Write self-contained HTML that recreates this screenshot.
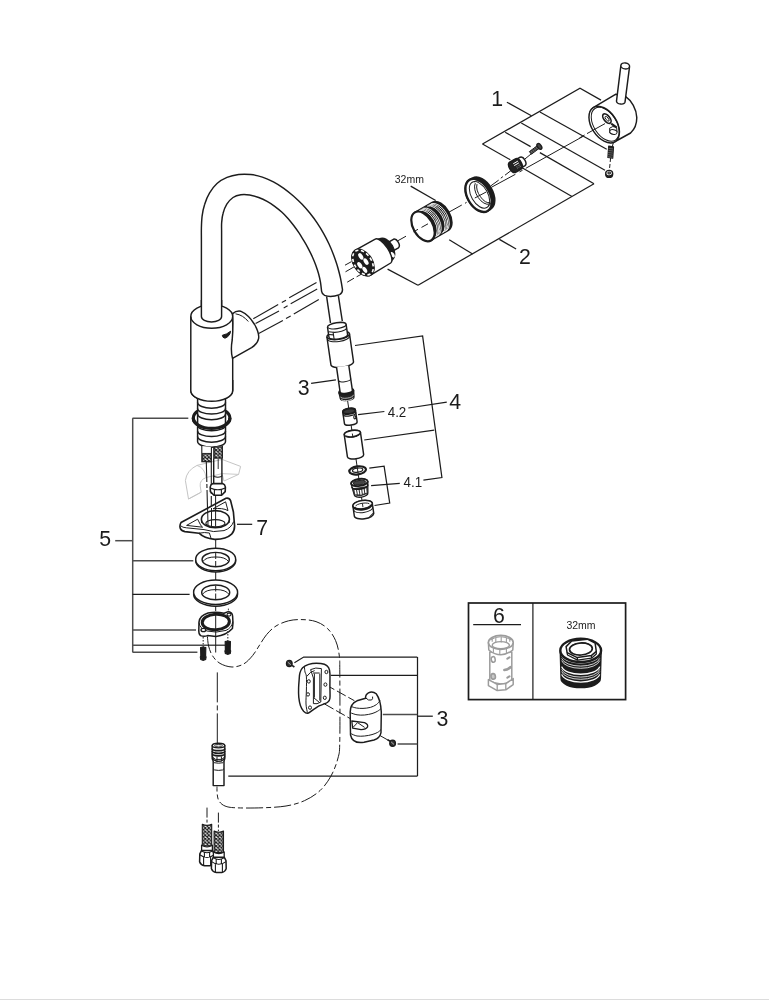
<!DOCTYPE html>
<html lang="en">
<head>
<meta charset="utf-8">
<title>Exploded view - kitchen mixer spare parts</title>
<style>
html,body{margin:0;padding:0;background:#fff;}
body{width:769px;height:1000px;overflow:hidden;position:relative;font-family:"Liberation Sans",Arial,Helvetica,sans-serif;}
#diagram{display:block;position:absolute;left:0;top:0;width:769px;height:1000px;will-change:transform;}
#diagram text{font-family:"Liberation Sans",Arial,Helvetica,sans-serif;}
#foot{position:absolute;left:0;top:999px;width:769px;height:1px;background:#dcdcdc;}
</style>
</head>
<body>
<svg id="diagram" width="769" height="1000" viewBox="0 0 769 1000">
<defs>
<pattern id="braid" width="3.6" height="3.6" patternUnits="userSpaceOnUse">
<rect width="3.6" height="3.6" fill="#fff"/>
<path d="M0 0L3.6 3.6M3.6 0L0 3.6" stroke="#1c1c1c" stroke-width="1.15" fill="none"/>
</pattern>
</defs>
<!-- leader lines / brackets -->
<g id="leaders">
<path d="M482.5 144.0L580.0 88.2L601.0 100.1" fill="none" stroke="#1c1c1c" stroke-width="1.25"/>
<path d="M482.5 144.0L510.3 159.8" fill="none" stroke="#1c1c1c" stroke-width="1.25"/>
<path d="M505.2 132.3L530.6 146.6" fill="none" stroke="#1c1c1c" stroke-width="1.25"/>
<path d="M521.3 123.0L605.0 170.3" fill="none" stroke="#1c1c1c" stroke-width="1.25"/>
<path d="M539.9 112.0L606.7 149.2" fill="none" stroke="#1c1c1c" stroke-width="1.25"/>
<path d="M506.9 102.2L531.4 115.7" fill="none" stroke="#1c1c1c" stroke-width="1.25"/>
<path d="M418.0 285.2L594.0 183.8" fill="none" stroke="#1c1c1c" stroke-width="1.25"/>
<path d="M418.0 285.2L387.6 269.1" fill="none" stroke="#1c1c1c" stroke-width="1.25"/>
<path d="M472.6 254.0L449.2 239.7" fill="none" stroke="#1c1c1c" stroke-width="1.25"/>
<path d="M572.0 196.5L522.1 167.8" fill="none" stroke="#1c1c1c" stroke-width="1.25"/>
<path d="M594.0 183.8L539.9 152.6" fill="none" stroke="#1c1c1c" stroke-width="1.25"/>
<path d="M499.4 239.4L516.1 249.0" fill="none" stroke="#1c1c1c" stroke-width="1.25"/>
<path d="M410.7 186.1L435.7 200.5" fill="none" stroke="#1c1c1c" stroke-width="1.25"/>
<path d="M355.0 345.5L422.6 335.9L441.9 477.5L423.4 480.1" fill="none" stroke="#1c1c1c" stroke-width="1.25"/>
<path d="M364.2 440.0L434.2 430.2" fill="none" stroke="#1c1c1c" stroke-width="1.25"/>
<path d="M446.8 402.2L408.3 408.0" fill="none" stroke="#1c1c1c" stroke-width="1.25"/>
<path d="M384.4 411.5L358.1 414.7" fill="none" stroke="#1c1c1c" stroke-width="1.25"/>
<path d="M369.3 468.2L384.1 466.2L389.7 503.0L374.5 505.5" fill="none" stroke="#1c1c1c" stroke-width="1.25"/>
<path d="M371.1 485.7L399.8 483.3" fill="none" stroke="#1c1c1c" stroke-width="1.25"/>
<path d="M311.1 383.4L335.9 379.8" fill="none" stroke="#1c1c1c" stroke-width="1.25"/>
<path d="M132.7 418.2L132.7 652.2" fill="none" stroke="#4d4d4d" stroke-width="1.5"/>
<path d="M132.5 418.2L188.3 418.2" fill="none" stroke="#4d4d4d" stroke-width="1.5"/>
<path d="M132.5 560.8L193.3 560.8" fill="none" stroke="#4d4d4d" stroke-width="1.5"/>
<path d="M132.5 630.1L196.0 630.1" fill="none" stroke="#4d4d4d" stroke-width="1.5"/>
<path d="M132.5 645.3L225.1 645.3" fill="none" stroke="#4d4d4d" stroke-width="1.5"/>
<path d="M132.5 652.2L197.4 652.2" fill="none" stroke="#4d4d4d" stroke-width="1.5"/>
<path d="M132.5 594.4L189.6 594.4" fill="none" stroke="#1c1c1c" stroke-width="1.1"/>
<path d="M115.2 540.7L132.4 540.7" fill="none" stroke="#4d4d4d" stroke-width="1.5"/>
<path d="M237.0 524.3L252.2 524.3" fill="none" stroke="#1c1c1c" stroke-width="1.25"/>
<path d="M417.5 657.0L417.5 776.2" fill="none" stroke="#1c1c1c" stroke-width="1.25"/>
<path d="M417.3 657.0L303.7 657.0L294.4 662.7" fill="none" stroke="#1c1c1c" stroke-width="1.25"/>
<path d="M417.3 675.4L330.7 675.4" fill="none" stroke="#1c1c1c" stroke-width="1.25"/>
<path d="M432.8 716.2L417.3 716.2" fill="none" stroke="#1c1c1c" stroke-width="1.25"/>
<path d="M417.3 714.6L382.8 714.6" fill="none" stroke="#4d4d4d" stroke-width="1.5"/>
<path d="M417.3 744.0L397.6 744.0" fill="none" stroke="#4d4d4d" stroke-width="1.5"/>
<path d="M417.3 776.2L228.3 776.2" fill="none" stroke="#1c1c1c" stroke-width="1.25"/>
</g>
<!-- labels -->
<g id="labels">
<text x="491.3" y="105.5" font-size="21.3" fill="#1c1c1c" text-anchor="start" >1</text>
<text x="519.1" y="263.9" font-size="21.3" fill="#1c1c1c" text-anchor="start" >2</text>
<text x="297.8" y="395.1" font-size="21.3" fill="#1c1c1c" text-anchor="start" >3</text>
<text x="449.2" y="408.8" font-size="21.3" fill="#1c1c1c" text-anchor="start" >4</text>
<text x="99.2" y="545.9" font-size="21.3" fill="#1c1c1c" text-anchor="start" >5</text>
<text x="256.3" y="534.7" font-size="21.3" fill="#1c1c1c" text-anchor="start" >7</text>
<text x="493.1" y="622.6" font-size="21.3" fill="#1c1c1c" text-anchor="start" >6</text>
<text x="436.5" y="725.8" font-size="21.3" fill="#1c1c1c" text-anchor="start" >3</text>
<text x="0.0" y="0.0" font-size="13.8" fill="#1c1c1c" text-anchor="start" transform="translate(387.7 416.5) scale(0.97 1)">4.2</text>
<text x="0.0" y="0.0" font-size="13.8" fill="#1c1c1c" text-anchor="start" transform="translate(403.5 486.8) scale(0.97 1)">4.1</text>
<text x="0.0" y="0.0" font-size="11.0" fill="#1c1c1c" text-anchor="start" transform="translate(394.7 182.7) scale(0.955 1)">32mm</text>
<text x="0.0" y="0.0" font-size="11.0" fill="#1c1c1c" text-anchor="start" transform="translate(566.4 628.8) scale(0.955 1)">32mm</text>
</g>
<!-- faucet spout and body -->
<g id="faucet">
<path d="M253.3 318.7L278.2 304.6" fill="none" stroke="#1c1c1c" stroke-width="1.1"/>
<path d="M281.8 302.5L286.0 300.2" fill="none" stroke="#1c1c1c" stroke-width="1.1"/>
<path d="M289.2 297.8L316.5 282.5" fill="none" stroke="#1c1c1c" stroke-width="1.1"/>
<path d="M255.6 323.5L279.0 310.9" fill="none" stroke="#1c1c1c" stroke-width="1.1"/>
<path d="M283.7 307.9L287.6 305.7" fill="none" stroke="#1c1c1c" stroke-width="1.1"/>
<path d="M290.7 303.8L317.2 289.0" fill="none" stroke="#1c1c1c" stroke-width="1.1"/>
<path d="M258.7 333.5L282.9 320.5" fill="none" stroke="#1c1c1c" stroke-width="1.1"/>
<path d="M286.0 318.6L290.7 316.0" fill="none" stroke="#1c1c1c" stroke-width="1.1"/>
<path d="M293.8 314.0L318.8 299.6" fill="none" stroke="#1c1c1c" stroke-width="1.1"/>
<path d="M201.4 316.4C201.4 305.7 201.4 264.8 201.4 252.0C201.4 239.2 201.4 243.9 201.4 239.9C201.4 235.9 201.3 232.1 201.4 228.1C201.5 224.1 201.6 220.1 202.1 216.1C202.6 212.1 203.4 208.1 204.7 204.2C205.9 200.3 207.5 196.2 209.6 192.8C211.7 189.4 214.1 186.1 217.0 183.5C219.9 180.9 223.4 178.9 227.0 177.4C230.6 175.9 234.7 175.0 238.6 174.5C242.5 174.0 246.7 174.1 250.7 174.5C254.7 174.9 258.6 175.9 262.4 177.1C266.2 178.3 269.8 180.0 273.4 181.9C277.0 183.8 280.5 186.0 283.8 188.3C287.1 190.7 290.3 193.3 293.4 196.0C296.4 198.7 299.3 201.4 302.1 204.3C304.9 207.2 307.5 210.2 310.0 213.3C312.5 216.4 314.9 219.6 317.1 222.9C319.3 226.2 321.4 229.6 323.4 233.1C325.4 236.6 327.2 240.2 328.9 243.8C330.6 247.5 332.2 251.2 333.6 255.0C335.0 258.8 336.4 262.6 337.5 266.5C338.6 270.4 339.7 274.3 340.5 278.2C341.3 282.1 342.2 287.7 342.5 289.6 Q342.6 293.2 339.6 294.6 Q331 297.8 324.6 295.4 Q322 294.2 321.6 291.4 L321.6 291.4C321.4 289.9 321.0 285.4 320.5 282.4C320.0 279.4 319.3 276.4 318.5 273.5C317.7 270.6 316.7 267.8 315.7 265.0C314.7 262.2 313.5 259.4 312.3 256.7C311.1 254.0 309.7 251.3 308.3 248.6C306.9 245.9 305.4 243.3 303.8 240.7C302.2 238.1 300.7 235.4 299.0 232.9C297.3 230.4 295.5 227.9 293.7 225.5C291.9 223.1 290.0 220.7 288.0 218.4C286.0 216.2 283.9 214.0 281.7 212.0C279.5 210.0 277.1 208.1 274.7 206.3C272.3 204.5 269.8 202.9 267.1 201.4C264.4 199.9 261.6 198.6 258.7 197.5C255.8 196.4 252.7 195.5 249.7 195.0C246.7 194.5 243.7 194.3 240.9 194.7C238.1 195.1 235.3 195.9 233.0 197.5C230.7 199.1 228.5 201.6 226.8 204.2C225.2 206.8 223.9 210.2 223.1 213.2C222.2 216.2 221.9 219.2 221.7 222.1C221.4 225.0 221.6 227.8 221.6 230.8C221.6 233.8 221.6 236.5 221.6 240.0C221.6 243.5 221.6 239.3 221.6 252.0C221.6 264.7 221.6 305.7 221.6 316.4Z" fill="#fff" stroke="#1c1c1c" stroke-width="1.45" stroke-linejoin="round"/>
<path d="M326.6 296.4L330.5 323.0" fill="none" stroke="#1c1c1c" stroke-width="1.45"/>
<path d="M338.3 295.4L342.3 321.0" fill="none" stroke="#1c1c1c" stroke-width="1.45"/>
<path d="M190.8 316.5 L190.8 390.4 A20.95 10.9 0 0 0 232.7 390.4 L232.7 316.5 A20.95 11.7 0 0 0 190.8 316.5Z" fill="#fff" stroke="#1c1c1c" stroke-width="1.45"/>
<path d="M190.8 316.5 A20.95 11.7 0 0 0 232.7 316.5" fill="none" stroke="#1c1c1c" stroke-width="1.45"/>
<path d="M201.4 300 L201.4 316.5 A10.1 5.4 0 0 0 221.6 316.5 L221.6 300Z" fill="#fff"/>
<path d="M201.4 300 L201.4 316.5 A10.1 5.4 0 0 0 221.6 316.5 L221.6 300" fill="none" stroke="#1c1c1c" stroke-width="1.45"/>
<path d="M222.3 335.3 Q227 334.4 230.6 331.2 Q230 336.2 225 338.2 Q222.4 337.8 222.3 335.3Z" fill="#1c1c1c" stroke="#1c1c1c" stroke-width="1.0"/>
<path d="M232.7 313.6 Q236 310.6 240.6 311.2 Q248.5 314.6 254.6 324.5 Q259.5 333 258.6 338.6 Q257.6 343.6 251.6 347.6 L232.5 358.4 Q230.4 350 232.2 340 Q233.4 327 232.7 313.6Z" fill="#fff" stroke="#1c1c1c" stroke-width="1.45" stroke-linejoin="round"/>
<path d="M235.5 313.8 Q243 315 248.3 321.5" fill="none" stroke="#1c1c1c" stroke-width="1.0"/>
</g>
<!-- handle, screws, rings, cartridge (exploded along 30 degree axis) -->
<g id="top-parts">
<path d="M491.4 187.3L515.4 174.3" fill="none" stroke="#1c1c1c" stroke-width="1.0"/>
<path d="M519.5 171.9L522.6 170.2" fill="none" stroke="#1c1c1c" stroke-width="1.0"/>
<path d="M525.8 168.3L583.0 136.4" fill="none" stroke="#1c1c1c" stroke-width="1.0"/>
<path d="M490.9 185.8L498.7 180.1" fill="none" stroke="#1c1c1c" stroke-width="1.0"/>
<path d="M500.8 178.2L502.9 176.6" fill="none" stroke="#1c1c1c" stroke-width="1.0"/>
<path d="M505.0 175.2L511.2 170.4" fill="none" stroke="#1c1c1c" stroke-width="1.0"/>
<path d="M523.0 160.6L531.5 153.6" fill="none" stroke="#1c1c1c" stroke-width="1.0"/>
<path d="M466.6 202.3L465.0 203.3" fill="none" stroke="#1c1c1c" stroke-width="1.0"/>
<path d="M461.8 205.0L442.0 216.0" fill="none" stroke="#1c1c1c" stroke-width="1.0"/>
<path d="M406.0 236.2L396.0 241.8" fill="none" stroke="#1c1c1c" stroke-width="1.0"/>
<path d="M613.8 141.0L611.4 150.0" fill="none" stroke="#1c1c1c" stroke-width="1.0"/>
<path d="M610.6 158.0L609.5 169.0" fill="none" stroke="#1c1c1c" stroke-width="1.0" stroke-dasharray="4 2"/>
<path d="M593.2 107.7 L615.9 94.2 L625.7 96.6 C631.5 100.5 636.5 109 636.8 117.6 C636.8 124.5 634.5 129.5 630.6 133 L615.2 141.5 A12.6 20.2 -33 0 1 593.2 107.7Z" fill="#fff" stroke="#1c1c1c" stroke-width="1.45" stroke-linejoin="round"/>
<ellipse cx="604.2" cy="124.6" rx="12.6" ry="20.2" transform="rotate(-33 604.2 124.6)" fill="#fff" stroke="#1c1c1c" stroke-width="1.45"/>
<ellipse cx="605.2" cy="124.3" rx="11.3" ry="18.8" transform="rotate(-33 605.2 124.3)" fill="none" stroke="#1c1c1c" stroke-width="1.0"/>
<path d="M605.0 123.6L587.0 133.6" fill="none" stroke="#1c1c1c" stroke-width="1.0"/>
<path d="M584.6 135.0L579.4 138.0" fill="none" stroke="#1c1c1c" stroke-width="1.0"/>
<ellipse cx="606.9" cy="118.6" rx="2.9" ry="5.6" transform="rotate(-39 606.9 118.6)" fill="#fff" stroke="#1c1c1c" stroke-width="1.7"/>
<ellipse cx="607.1" cy="118.8" rx="1.2" ry="2.9" transform="rotate(-39 607.1 118.8)" fill="none" stroke="#1c1c1c" stroke-width="0.9"/>
<path d="M609.6 128.2 Q612.4 125.4 616.6 127.2 L617 132.2 Q613.5 135.6 609.8 132.8Z" fill="#fff" stroke="#1c1c1c" stroke-width="1.0"/>
<ellipse cx="613.4" cy="132.0" rx="3.7" ry="2.3" transform="rotate(12 613.4 132.0)" fill="#fff" stroke="#1c1c1c" stroke-width="1.0"/>
<path d="M611.2 123.6 L616.6 127.4" fill="none" stroke="#1c1c1c" stroke-width="2.0"/>
<path d="M620.8 66.2 L616.5 101.2 A4.3 2.6 8 0 0 625.0 102.2 L629.5 67.2Z" fill="#fff" stroke="#1c1c1c" stroke-width="1.45" stroke-linejoin="round"/>
<ellipse cx="625.2" cy="65.9" rx="4.4" ry="3.0" transform="rotate(8 625.2 65.9)" fill="#fff" stroke="#1c1c1c" stroke-width="1.45"/>
<path d="M608.7 146.2 L613.5 146.9 L612.7 158.2 L607.9 157.5Z" fill="#222" stroke="#1c1c1c" stroke-width="1.2" stroke-linejoin="round"/>
<path d="M608.5 148.3L613.1 148.9" fill="none" stroke="#999" stroke-width="0.5"/>
<path d="M608.4 150.4L613.0 151.0" fill="none" stroke="#999" stroke-width="0.5"/>
<path d="M608.2 152.5L612.8 153.1" fill="none" stroke="#999" stroke-width="0.5"/>
<path d="M608.1 154.6L612.7 155.2" fill="none" stroke="#999" stroke-width="0.5"/>
<path d="M607.9 156.7L612.5 157.3" fill="none" stroke="#999" stroke-width="0.5"/>
<ellipse cx="609.2" cy="174.4" rx="3.4" ry="3.0" fill="#333" stroke="#1c1c1c" stroke-width="1.4"/>
<ellipse cx="609.2" cy="173.2" rx="3.4" ry="2.8" fill="#fff" stroke="#1c1c1c" stroke-width="1.4"/>
<ellipse cx="609.2" cy="173.0" rx="1.5" ry="1.1" fill="#777" stroke="#1c1c1c" stroke-width="0.9"/>
<path d="M529.4 151.6 L537.4 145.6 L539.4 148.2 L531.4 154.2Z" fill="#3a3a3a" stroke="#1c1c1c" stroke-width="1.0" stroke-linejoin="round"/>
<path d="M531.0 151.0L532.4 153.0" fill="none" stroke="#aaa" stroke-width="0.5"/>
<path d="M532.7 149.7L534.1 151.7" fill="none" stroke="#aaa" stroke-width="0.5"/>
<path d="M534.4 148.4L535.8 150.4" fill="none" stroke="#aaa" stroke-width="0.5"/>
<path d="M536.1 147.1L537.5 149.1" fill="none" stroke="#aaa" stroke-width="0.5"/>
<ellipse cx="539.4" cy="146.4" rx="1.9" ry="3.3" transform="rotate(-35 539.4 146.4)" fill="#444" stroke="#1c1c1c" stroke-width="1.3"/>
<path d="M515.3 160.0 L520.2 157.2 A3.0 4.9 -30 0 1 525.1 165.6 L520.2 168.4 A3.0 4.9 -30 0 1 515.3 160.0Z" fill="#fff" stroke="#1c1c1c" stroke-width="1.45" stroke-linejoin="round"/>
<path d="M509.7 162.1 L515.4 158.8 A3.4 5.9 -30 0 1 521.3 169.0 L515.6 172.3 A3.4 5.9 -30 0 1 509.7 162.1Z" fill="#222" stroke="#1c1c1c" stroke-width="1.45" stroke-linejoin="round"/>
<path d="M513.2 163.8L517.9 161.1" fill="none" stroke="#fff" stroke-width="1.0"/>
<path d="M514.2 165.6L518.9 162.9" fill="none" stroke="#fff" stroke-width="1.0"/>
<path d="M516.5 166.8L520.0 164.8" fill="none" stroke="#ccc" stroke-width="0.7" stroke-dasharray="0.8 0.8"/>
<path d="M517.3 168.2L520.8 166.2" fill="none" stroke="#ccc" stroke-width="0.7" stroke-dasharray="0.8 0.8"/>
<path d="M469.6 179.8 L472.5 178.1 A11.2 18.0 -30 0 1 490.5 209.3 L487.6 211.0 A11.2 18.0 -30 0 1 469.6 179.8Z" fill="#1c1c1c" stroke="#1c1c1c" stroke-width="1.6" stroke-linejoin="round"/>
<ellipse cx="478.6" cy="195.4" rx="11.2" ry="18.0" transform="rotate(-30 478.6 195.4)" fill="#fff" stroke="#1c1c1c" stroke-width="2.4"/>
<ellipse cx="479.5" cy="194.9" rx="8.2" ry="14.6" transform="rotate(-30 479.5 194.9)" fill="none" stroke="#1c1c1c" stroke-width="1.0"/>
<path d="M474.0 182.1A7.6 14.0 -30 1 1 487.8 206.1" fill="none" stroke="#1c1c1c" stroke-width="1.0"/>
<path d="M489.5 204.0A7.3 13.0 -30 0 1 475.3 183.2" fill="none" stroke="#1c1c1c" stroke-width="1.0"/>
<path d="M490.2 202.6A6.8 12.2 -30 0 1 477.0 184.1" fill="none" stroke="#1c1c1c" stroke-width="1.0"/>
<path d="M486.2 192.0L474.8 198.0" fill="none" stroke="#1c1c1c" stroke-width="1.0"/>
<path d="M414.9 212.4 L432.6 202.2 A9.8 16.2 -30 0 1 448.8 230.2 L431.1 240.4 A9.8 16.2 -30 0 1 414.9 212.4Z" fill="#1c1c1c" stroke="#1c1c1c" stroke-width="1.5" stroke-linejoin="round"/>
<path d="M419.0 210.7A9.5 15.7 -30 0 1 434.1 238.1" fill="none" stroke="#fff" stroke-width="0.9"/>
<path d="M420.4 209.9A9.5 15.7 -30 0 1 435.5 237.3" fill="none" stroke="#fff" stroke-width="0.9"/>
<path d="M421.8 209.1A9.5 15.7 -30 0 1 436.8 236.5" fill="none" stroke="#fff" stroke-width="0.9"/>
<path d="M423.2 208.3A9.5 15.7 -30 0 1 438.2 235.7" fill="none" stroke="#fff" stroke-width="0.9"/>
<path d="M427.0 206.1A9.5 15.7 -30 0 1 442.0 233.5" fill="none" stroke="#fff" stroke-width="0.9"/>
<path d="M428.4 205.3A9.5 15.7 -30 0 1 443.4 232.7" fill="none" stroke="#fff" stroke-width="0.9"/>
<path d="M429.7 204.5A9.5 15.7 -30 0 1 444.8 231.9" fill="none" stroke="#fff" stroke-width="0.9"/>
<path d="M431.1 203.7A9.5 15.7 -30 0 1 446.2 231.1" fill="none" stroke="#fff" stroke-width="0.9"/>
<ellipse cx="423.0" cy="226.4" rx="9.8" ry="16.2" transform="rotate(-30 423.0 226.4)" fill="#fff" stroke="#1c1c1c" stroke-width="2.2"/>
<path d="M413.5 231.8L418.0 229.3" fill="none" stroke="#1c1c1c" stroke-width="1.0"/>
<path d="M421.5 227.4L428.0 223.8" fill="none" stroke="#1c1c1c" stroke-width="1.0"/>
<path d="M387.3 242.8 L393.4 239.3 A3.0 5.0 -30 0 1 398.4 247.9 L392.3 251.4 A3.0 5.0 -30 0 1 387.3 242.8Z" fill="#fff" stroke="#1c1c1c" stroke-width="1.45" stroke-linejoin="round"/>
<path d="M374.5 240.5 L379.8 238.6 A8.0 12.4 -30 0 1 392.2 260.0 L387.9 263.7 A8.4 13.4 -30 0 1 374.5 240.5Z" fill="#1c1c1c" stroke="#1c1c1c" stroke-width="1.2" stroke-linejoin="round"/>
<ellipse cx="392.6" cy="254.7" rx="1.7" ry="3.0" transform="rotate(-30 392.6 254.7)" fill="#fff"/>
<path d="M355.0 250.4 L375.2 239.2 A5.4 14.2 -33 0 1 390.7 263.0 L371.0 274.8 A9.4 14.6 -33 0 1 355.0 250.4Z" fill="#fff" stroke="#1c1c1c" stroke-width="1.45" stroke-linejoin="round"/>
<ellipse cx="363.0" cy="262.6" rx="9.4" ry="14.6" transform="rotate(-33 363.0 262.6)" fill="#1c1c1c" stroke="#1c1c1c" stroke-width="1.4"/>
<ellipse cx="363.0" cy="262.6" rx="8.5" ry="13.6" transform="rotate(-33 363.0 262.6)" fill="none" stroke="#fff" stroke-width="1.6" stroke-dasharray="3.2 2.6"/>
<ellipse cx="360.8" cy="256.4" rx="2.0" ry="3.6" transform="rotate(-33 360.8 256.4)" fill="#fff"/>
<ellipse cx="366.0" cy="261.6" rx="2.0" ry="3.6" transform="rotate(-33 366.0 261.6)" fill="#fff"/>
<ellipse cx="359.8" cy="265.2" rx="2.0" ry="3.6" transform="rotate(-33 359.8 265.2)" fill="#fff"/>
<ellipse cx="364.8" cy="269.8" rx="1.9" ry="3.4" transform="rotate(-33 364.8 269.8)" fill="#fff"/>
<path d="M351.5 261.6L345.0 265.2" fill="none" stroke="#1c1c1c" stroke-width="1.0"/>
<path d="M354.5 266.6L345.5 271.8" fill="none" stroke="#1c1c1c" stroke-width="1.0"/>
<path d="M361.0 274.4L356.6 276.8" fill="none" stroke="#1c1c1c" stroke-width="1.0"/>
<path d="M354.0 278.2L347.2 282.2" fill="none" stroke="#1c1c1c" stroke-width="1.0"/>
</g>
<!-- pull-out spray head and aerator parts (tilted axis) -->
<g id="spray" transform="rotate(-8.2 338 334)">
<path d="M338.0 400.0L338.0 410.0" fill="none" stroke="#1c1c1c" stroke-width="1.0"/>
<path d="M338.0 426.0L338.0 432.0" fill="none" stroke="#1c1c1c" stroke-width="1.0"/>
<path d="M338.0 460.0L338.0 468.0" fill="none" stroke="#1c1c1c" stroke-width="1.0"/>
<path d="M338.0 476.0L338.0 482.0" fill="none" stroke="#1c1c1c" stroke-width="1.0"/>
<path d="M338.0 498.0L338.0 503.0" fill="none" stroke="#1c1c1c" stroke-width="1.0"/>
<path d="M326.6 335.4 L326.6 363.6 A11.4 4.0 0 0 0 349.4 363.6 L349.4 335.4 A11.4 4.0 0 0 0 326.6 335.4Z" fill="#fff" stroke="#1c1c1c" stroke-width="1.45" stroke-linejoin="round"/>
<path d="M326.6 335.4 A11.4 4 0 0 0 349.4 335.4" fill="none" stroke="#1c1c1c" stroke-width="1.45"/>
<path d="M326.8 337.6 A11.2 4 0 0 0 349.2 337.6" fill="none" stroke="#1c1c1c" stroke-width="1.0"/>
<path d="M328.6 325.6 L328.6 336.0 A9.4 3.0 0 0 0 347.4 336.0 L347.4 325.6 A9.4 3.0 0 0 0 328.6 325.6Z" fill="#fff" stroke="#1c1c1c" stroke-width="1.45" stroke-linejoin="round"/>
<path d="M328.6 325.6 A9.4 3.0 0 0 0 347.4 325.6" fill="none" stroke="#1c1c1c" stroke-width="1.1"/>
<path d="M329.0 330.4 L333.4 331.6 L333.4 338.4" fill="none" stroke="#1c1c1c" stroke-width="1.1"/>
<path d="M333.4 331.6 A9 3 0 0 0 347.2 329.6" fill="none" stroke="#1c1c1c" stroke-width="1.1"/>
<path d="M333.4 334.2 L328.8 333.2" fill="none" stroke="#1c1c1c" stroke-width="1.1"/>
<path d="M330.6 392.0 L331.2 398.4 A6.8 2.6 0 0 0 344.8 398.4 L345.4 392.0 A7.4 2.6 0 0 0 330.6 392.0Z" fill="#222" stroke="#1c1c1c" stroke-width="1.45" stroke-linejoin="round"/>
<path d="M331.4 396.4 A6.6 2.4 0 0 0 344.6 396.4" fill="none" stroke="#ddd" stroke-width="0.7"/>
<path d="M332.2 399.2 A5.8 2.0 0 0 0 343.8 399.2" fill="none" stroke="#eee" stroke-width="0.8"/>
<path d="M331.8 366.6 L331.8 391.6 A6.2 2.2 0 0 0 344.2 391.6 L344.2 366.6" fill="#fff" stroke="#1c1c1c" stroke-width="1.45"/>
<path d="M331.8 380.0 A6.2 2.2 0 0 0 344.2 380.0" fill="none" stroke="#1c1c1c" stroke-width="1.0"/>
<path d="M330.6 392.0 A7.4 2.8 0 0 0 345.4 392.0" fill="none" stroke="#1c1c1c" stroke-width="1.5"/>
<path d="M331.6 412.0 L331.6 423.6 A6.4 2.4 0 0 0 344.4 423.6 L344.4 412.0 A6.4 2.4 0 0 0 331.6 412.0Z" fill="#fff" stroke="#1c1c1c" stroke-width="1.45" stroke-linejoin="round"/>
<ellipse cx="338.0" cy="412.0" rx="6.2" ry="2.7" fill="#3a3a3a" stroke="#1c1c1c" stroke-width="1.9"/>
<path d="M331.6 414.2 A6.4 2.6 0 0 0 344.4 414.2" fill="none" stroke="#1c1c1c" stroke-width="1.3"/>
<ellipse cx="342.7" cy="418.8" rx="1.0" ry="1.6" fill="#fff" stroke="#1c1c1c" stroke-width="1.1"/>
<path d="M329.8 434.6 L329.8 457.0 A8.2 3.1 0 0 0 346.2 457.0 L346.2 434.6 A8.2 3.1 0 0 0 329.8 434.6Z" fill="#fff" stroke="#1c1c1c" stroke-width="1.45" stroke-linejoin="round"/>
<ellipse cx="338.0" cy="434.6" rx="8.2" ry="3.2" fill="#fff" stroke="#1c1c1c" stroke-width="1.6"/>
<path d="M332.0 436.0 A6.0 2.2 0 0 0 344.0 436.0" fill="none" stroke="#1c1c1c" stroke-width="0.9"/>
<path d="M338.0 434.6L338.0 438.6" fill="none" stroke="#1c1c1c" stroke-width="0.9"/>
<ellipse cx="338.0" cy="471.8" rx="8.4" ry="4.0" fill="#fff" stroke="#1c1c1c" stroke-width="2.2"/>
<ellipse cx="338.0" cy="471.6" rx="5.2" ry="2.0" fill="#fff" stroke="#1c1c1c" stroke-width="1.2"/>
<path d="M338.0 468.0L338.0 475.0" fill="none" stroke="#1c1c1c" stroke-width="0.9"/>
<path d="M329.6 484.0 L331.2 495.6 A6.8 3.2 0 0 0 344.8 495.6 L346.4 484.0 A8.4 3.2 0 0 0 329.6 484.0Z" fill="#fff" stroke="#1c1c1c" stroke-width="1.45" stroke-linejoin="round"/>
<path d="M330.0 488.6 L331.0 494.6 A7 3 0 0 0 345.0 494.6 L346.0 488.6Z" fill="#333"/>
<path d="M332.8 490.4L333.0 495.2" fill="none" stroke="#fff" stroke-width="1.5"/>
<path d="M335.4 490.8L335.5 495.7" fill="none" stroke="#fff" stroke-width="1.5"/>
<path d="M338.0 491.2L338.0 496.2" fill="none" stroke="#fff" stroke-width="1.5"/>
<path d="M340.6 490.8L340.5 495.7" fill="none" stroke="#fff" stroke-width="1.5"/>
<path d="M343.2 490.4L343.0 495.2" fill="none" stroke="#fff" stroke-width="1.5"/>
<ellipse cx="338.0" cy="484.0" rx="8.4" ry="3.5" fill="#fff" stroke="#1c1c1c" stroke-width="1.9"/>
<ellipse cx="338.0" cy="484.2" rx="6.0" ry="2.1" fill="#444" stroke="#1c1c1c" stroke-width="1.0"/>
<path d="M329.8 487.4 A8.2 3.2 0 0 0 346.2 487.4" fill="none" stroke="#1c1c1c" stroke-width="1.5"/>
<path d="M328.2 506.4 L328.2 516.6 A9.8 4.0 0 0 0 347.8 516.6 L347.8 506.4 A9.8 4.0 0 0 0 328.2 506.4Z" fill="#fff" stroke="#1c1c1c" stroke-width="1.45" stroke-linejoin="round"/>
<ellipse cx="338.0" cy="506.4" rx="9.8" ry="4.2" fill="#fff" stroke="#1c1c1c" stroke-width="1.6"/>
<path d="M329.4 507.6 A8.6 3.6 0 0 0 346.6 507.6" fill="none" stroke="#1c1c1c" stroke-width="2.4"/>
<path d="M331.0 507.0 A7.0 2.0 0 0 1 345.0 507.0" fill="none" stroke="#1c1c1c" stroke-width="0.9"/>
<path d="M328.4 510.4 A9.6 4.0 0 0 0 347.6 510.4" fill="none" stroke="#1c1c1c" stroke-width="1.0"/>
<path d="M343.2 519.4L347.4 516.4" fill="none" stroke="#1c1c1c" stroke-width="1.0"/>
<path d="M338.0 505.0L338.0 509.0" fill="none" stroke="#1c1c1c" stroke-width="0.9"/>
</g>
<!-- threaded shank, hoses, stabiliser, washers, mounting flange -->
<g id="base">
<path d="M188.5 499.0 L185.4 480.6 Q186.5 470.5 197.0 465.4 L222.0 459.4 L240.6 466.4 L238.6 474.4 L224.0 481.0 L222.0 473.6 L206.0 477.6 Q199.6 480.0 200.2 486.0 L201.2 492.2Z" fill="#fff" stroke="#c4c4c4" stroke-width="1.0" stroke-linejoin="round"/>
<path d="M188.5 499.0 L201.2 492.2 M222.0 473.6 L238.6 474.4 M197.0 465.4 Q205 468 206.0 477.6" fill="none" stroke="#c4c4c4" stroke-width="0.9"/>
<ellipse cx="211.6" cy="418.0" rx="18.3" ry="10.4" fill="none" stroke="#1c1c1c" stroke-width="3.2"/>
<path d="M197.6 398 L197.6 441.6 A13.95 5.6 0 0 0 225.5 441.6 L225.5 398Z" fill="#fff" stroke="#1c1c1c" stroke-width="1.5"/>
<path d="M197.6 402.6 A13.95 5.6 0 0 0 225.5 402.6" fill="none" stroke="#1c1c1c" stroke-width="1.5"/>
<path d="M197.6 408.4 A13.95 5.6 0 0 0 225.5 408.4" fill="none" stroke="#1c1c1c" stroke-width="1.5"/>
<path d="M197.6 414.1 A13.95 5.6 0 0 0 225.5 414.1" fill="none" stroke="#1c1c1c" stroke-width="1.5"/>
<path d="M197.6 425.2 A13.95 5.6 0 0 0 225.5 425.2" fill="none" stroke="#1c1c1c" stroke-width="1.5"/>
<path d="M197.6 430.9 A13.95 5.6 0 0 0 225.5 430.9" fill="none" stroke="#1c1c1c" stroke-width="1.5"/>
<path d="M197.6 436.6 A13.95 5.6 0 0 0 225.5 436.6" fill="none" stroke="#1c1c1c" stroke-width="1.5"/>
<path d="M193.3 418.0 A18.3 10.4 0 0 0 229.9 418.0" fill="none" stroke="#1c1c1c" stroke-width="3.2"/>
<path d="M190.8 380 L190.8 390.4 A20.95 10.9 0 0 0 232.7 390.4 L232.7 380Z" fill="#fff"/>
<path d="M190.8 380 L190.8 390.4 A20.95 10.9 0 0 0 232.7 390.4 L232.7 380" fill="none" stroke="#1c1c1c" stroke-width="1.45"/>
<path d="M201.8 446 L201.8 461.8 L211.4 461.8 L211.4 447" fill="#fff" stroke="#1c1c1c" stroke-width="1.1"/>
<path d="M213.8 447 L213.8 458.0 L222.4 458.0 L222.4 446" fill="#fff" stroke="#1c1c1c" stroke-width="1.1"/>
<rect x="202.6" y="453.4" width="8.4" height="8.2" fill="url(#braid)" stroke="#1c1c1c" stroke-width="0.9"/>
<rect x="214.2" y="446.8" width="8.0" height="11.2" fill="url(#braid)" stroke="#1c1c1c" stroke-width="0.9"/>
<path d="M206.3 462.0L207.8 520.0" fill="none" stroke="#1c1c1c" stroke-width="1.1" stroke-dasharray="20 2 4 2"/>
<path d="M211.3 462.0L211.3 520.0" fill="none" stroke="#1c1c1c" stroke-width="1.1" stroke-dasharray="26 2 4 2"/>
<path d="M213.7 458.2L213.7 484.0" fill="none" stroke="#1c1c1c" stroke-width="1.4"/>
<path d="M221.9 458.2L221.9 484.0" fill="none" stroke="#1c1c1c" stroke-width="1.4"/>
<path d="M218.2 459.0L218.2 469.0" fill="none" stroke="#1c1c1c" stroke-width="0.9"/>
<path d="M213.7 475.6 A4.1 1.6 0 0 0 221.9 475.6" fill="none" stroke="#1c1c1c" stroke-width="1.1"/>
<path d="M210.2 487.0 Q210.6 484.4 213.0 483.6 L222.6 483.6 Q225.0 484.4 225.4 487.0 L225.2 491.6 L221.6 495.2 L214.0 495.2 L210.4 491.6Z" fill="#fff" stroke="#1c1c1c" stroke-width="1.6" stroke-linejoin="round"/>
<path d="M210.4 488.0 Q217.8 491.6 225.2 488.0 M214.4 490.0 L214.4 495.0 M221.4 490.0 L221.4 495.0" fill="none" stroke="#1c1c1c" stroke-width="1.1"/>
<path d="M215.6 496.0L215.6 540.0" fill="none" stroke="#1c1c1c" stroke-width="1.0" stroke-dasharray="14 2.5 3 2.5"/>
<path d="M181.0 522.6 Q179.2 525.6 180.4 528.6 Q181.4 531.0 185.0 531.6 L199.0 533.2 Q204.0 538.2 214.6 539.4 Q226.0 539.6 231.6 534.2 Q234.6 531.0 234.6 526.0 L233.4 512.0 L230.6 500.6 Q229.4 497.6 226.0 498.2 Z" fill="#fff" stroke="#1c1c1c" stroke-width="1.65" stroke-linejoin="round"/>
<path d="M180.6 525.8 Q182.6 527.6 186.4 527.8 L204.0 529.6 Q213.0 533.0 224.0 530.6 Q231.4 528.0 233.6 521.6" fill="none" stroke="#1c1c1c" stroke-width="1.0"/>
<path d="M199.0 533.2 Q204.6 532.0 209.4 533.0 L211.2 538.8" fill="none" stroke="#1c1c1c" stroke-width="1.0"/>
<ellipse cx="215.4" cy="519.2" rx="14.0" ry="8.6" fill="#fff" stroke="#1c1c1c" stroke-width="1.6"/>
<ellipse cx="215.4" cy="523.2" rx="9.6" ry="3.6" fill="#fff" stroke="#1c1c1c" stroke-width="1.1"/>
<path d="M201.6 520.0 L201.6 523.0 M229.2 520.0 L229.2 523.0" fill="none" stroke="#1c1c1c" stroke-width="0.9"/>
<path d="M186.6 525.4 L197.6 519.2 L200.2 524.2 Q200.8 526.0 202.6 527.2 Z" fill="none" stroke="#1c1c1c" stroke-width="1.0" stroke-linejoin="round"/>
<path d="M213.0 508.8 L225.6 501.8 L228.0 510.6 Q222.6 507.6 213.0 508.8Z" fill="none" stroke="#1c1c1c" stroke-width="1.0" stroke-linejoin="round"/>
<path d="M207.6 508.0L208.0 525.0" fill="none" stroke="#1c1c1c" stroke-width="1.0"/>
<path d="M211.5 508.0L211.5 526.4" fill="none" stroke="#1c1c1c" stroke-width="1.0"/>
<path d="M215.6 503.0L215.6 526.6" fill="none" stroke="#1c1c1c" stroke-width="1.0"/>
<path d="M215.7 540.0L215.7 548.0" fill="none" stroke="#1c1c1c" stroke-width="1.0"/>
<path d="M215.7 572.0L215.7 580.0" fill="none" stroke="#1c1c1c" stroke-width="1.0"/>
<path d="M215.7 607.0L215.7 611.0" fill="none" stroke="#1c1c1c" stroke-width="1.0"/>
<ellipse cx="215.7" cy="560.8" rx="20.0" ry="11.2" fill="#fff" stroke="#1c1c1c" stroke-width="1.45"/>
<ellipse cx="215.7" cy="559.4" rx="20.0" ry="11.2" fill="#fff" stroke="#1c1c1c" stroke-width="1.45"/>
<ellipse cx="215.7" cy="559.6" rx="13.6" ry="7.2" fill="#fff" stroke="#1c1c1c" stroke-width="1.45"/>
<path d="M202.8 561.6 A13.6 6.8 0 0 1 228.6 561.6" fill="none" stroke="#1c1c1c" stroke-width="1.0"/>
<path d="M215.7 553.0L215.7 566.0" fill="none" stroke="#1c1c1c" stroke-width="1.0" stroke-dasharray="6 2"/>
<ellipse cx="215.6" cy="594.0" rx="22.0" ry="12.2" fill="#fff" stroke="#1c1c1c" stroke-width="1.45"/>
<ellipse cx="215.6" cy="592.2" rx="22.0" ry="12.2" fill="#fff" stroke="#1c1c1c" stroke-width="1.45"/>
<ellipse cx="215.7" cy="592.4" rx="14.0" ry="7.4" fill="#fff" stroke="#1c1c1c" stroke-width="1.45"/>
<path d="M202.4 594.4 A14 7.0 0 0 1 229.0 594.4" fill="none" stroke="#1c1c1c" stroke-width="1.0"/>
<path d="M215.7 585.5L215.7 599.0" fill="none" stroke="#1c1c1c" stroke-width="1.0" stroke-dasharray="6 2"/>
<path d="M199.0 622.0 Q199.6 615.6 208.0 613.0 Q216.0 611.2 224.0 613.2 L228.2 611.6 Q232.4 612.4 232.6 616.0 L233.0 623.0 L232.4 628.6 Q226.0 635.6 216.0 636.4 L207.6 635.6 Q204.0 637.0 200.6 635.6 Q198.6 634.4 198.8 630.4Z" fill="#fff" stroke="#1c1c1c" stroke-width="1.5" stroke-linejoin="round"/>
<path d="M199.0 622.6 Q199.6 628.6 207.0 631.0 Q216.0 633.4 226.0 630.4 Q232.0 627.6 232.8 621.6" fill="none" stroke="#1c1c1c" stroke-width="1.0"/>
<ellipse cx="215.8" cy="622.0" rx="13.6" ry="7.8" transform="rotate(-3 215.8 622.0)" fill="#fff" stroke="#1c1c1c" stroke-width="3.0"/>
<ellipse cx="229.0" cy="614.6" rx="2.0" ry="1.5" fill="#fff" stroke="#1c1c1c" stroke-width="1.1"/>
<ellipse cx="203.4" cy="630.0" rx="2.4" ry="1.7" fill="#fff" stroke="#1c1c1c" stroke-width="1.3"/>
<path d="M215.7 612.0L215.7 652.5" fill="none" stroke="#1c1c1c" stroke-width="1.0"/>
<path d="M203.2 637.0L203.2 647.5" fill="none" stroke="#444" stroke-width="1.2" stroke-dasharray="1.6 1.4"/>
<path d="M227.8 631.0L227.8 642.0" fill="none" stroke="#444" stroke-width="1.2" stroke-dasharray="1.6 1.4"/>
<path d="M228.4 608.6L228.4 612.0" fill="none" stroke="#444" stroke-width="1.0" stroke-dasharray="1.6 1.4"/>
<path d="M200.6 647.6 Q203.2 646.4 205.8 647.6 L205.6 655.6 Q206.8 657.4 205.6 659.6 Q203.2 661.0 200.8 659.6 Q199.6 657.4 200.8 655.6Z" fill="#1c1c1c" stroke="#1c1c1c" stroke-width="1.2" stroke-linejoin="round"/>
<path d="M225.2 641.6 Q227.8 640.4 230.4 641.6 L230.2 649.6 Q231.4 651.4 230.2 653.6 Q227.8 655.0 225.4 653.6 Q224.2 651.4 225.4 649.6Z" fill="#1c1c1c" stroke="#1c1c1c" stroke-width="1.2" stroke-linejoin="round"/>
</g>
<!-- pull-out hose path, hose guide, connection hoses -->
<g id="lower">
<path d="M207.4 636.5C207.6 638.1 207.8 642.8 208.6 646.0C209.4 649.2 210.5 652.7 212.4 655.6C214.3 658.5 216.7 661.5 220.0 663.4C223.3 665.3 228.1 666.9 232.0 667.0C235.9 667.1 240.2 665.9 243.6 664.0C247.0 662.1 249.9 658.8 252.6 655.6C255.3 652.4 257.3 648.5 259.6 645.0C261.9 641.5 263.9 637.8 266.6 634.6C269.3 631.4 272.3 628.3 276.0 626.0C279.7 623.7 284.3 621.9 288.6 620.8C292.9 619.7 297.4 619.5 302.0 619.6C306.6 619.7 311.7 620.1 316.0 621.6C320.3 623.1 324.3 625.4 327.6 628.6C330.9 631.8 333.7 636.2 335.6 640.6C337.5 645.0 338.5 649.8 339.2 655.0C339.9 660.2 339.7 657.8 339.8 672.0C339.9 686.2 340.1 725.7 339.8 740.0C339.5 754.3 339.5 752.0 338.0 758.0C336.5 764.0 334.0 770.6 331.0 776.0C328.0 781.4 324.4 786.5 320.0 790.6C315.6 794.7 310.3 798.0 304.6 800.6C298.9 803.2 293.1 804.8 286.0 806.0C278.9 807.2 270.3 807.5 262.0 807.8C253.7 808.1 242.2 808.1 236.0 807.8C229.8 807.5 227.8 807.1 225.0 806.0C222.2 804.9 220.3 803.0 219.0 801.0C217.7 799.0 217.5 796.4 217.2 794.0C216.9 791.6 217.0 787.8 217.0 786.5" fill="none" stroke="#1c1c1c" stroke-width="1.0" stroke-dasharray="17 3 5 3"/>
<path d="M217.3 743.4L217.3 670.5" fill="none" stroke="#1c1c1c" stroke-width="1.0" stroke-dasharray="30 3 5 3"/>
<path d="M212.2 745.6 L212.2 758.6 L213.2 761.0 L213.2 785.6 L224.0 785.6 L224.0 761.0 L224.8 758.6 L224.8 745.6Z" fill="#fff" stroke="#1c1c1c" stroke-width="1.45" stroke-linejoin="round"/>
<ellipse cx="218.5" cy="745.6" rx="6.3" ry="2.3" fill="#fff" stroke="#1c1c1c" stroke-width="1.4"/>
<ellipse cx="218.5" cy="745.8" rx="4.0" ry="1.2" fill="none" stroke="#1c1c1c" stroke-width="1.0"/>
<path d="M212.2 748.4 A6.3 2.3 0 0 0 224.8 748.4" fill="none" stroke="#1c1c1c" stroke-width="1.7"/>
<path d="M212.2 751.0 A6.3 2.3 0 0 0 224.8 751.0" fill="none" stroke="#1c1c1c" stroke-width="1.7"/>
<path d="M212.2 753.6 A6.3 2.3 0 0 0 224.8 753.6" fill="none" stroke="#1c1c1c" stroke-width="1.7"/>
<path d="M212.2 755.4 L213.4 759.6 L217.0 761.4 L221.4 761.0 L224.2 759.0 L224.8 755.4" fill="none" stroke="#1c1c1c" stroke-width="1.4" stroke-linejoin="round"/>
<path d="M217.0 756.6 L217.0 761.2 M221.4 756.4 L221.4 760.8" fill="none" stroke="#1c1c1c" stroke-width="1.0"/>
<path d="M212.4 757.2 L215.6 759.4 L221.6 759.4 L224.6 757.2 M213.2 761.4 A5.4 1.8 0 0 0 224 761.4 M213.2 768.6 A5.4 1.8 0 0 0 224 768.6" fill="none" stroke="#1c1c1c" stroke-width="1.0"/>
<path d="M207.0 807.6L207.0 824.6" fill="none" stroke="#1c1c1c" stroke-width="1.0" stroke-dasharray="10 2 3 2"/>
<path d="M218.4 812.6L218.4 831.2" fill="none" stroke="#1c1c1c" stroke-width="1.0" stroke-dasharray="10 2 3 2"/>
<path d="M202.3 824.2 Q207.0 826.6 211.7 824.2 L211.7 845.8 L202.3 845.8Z" fill="url(#braid)" stroke="#1c1c1c" stroke-width="1.1" stroke-linejoin="round"/>
<path d="M201.6 845.2 L201.6 850.8 L212.4 850.8 L212.4 845.2 Q207.0 848.4 201.6 845.2Z" fill="#fff" stroke="#1c1c1c" stroke-width="1.3" stroke-linejoin="round"/>
<path d="M201.6 850.4 L199.8 853.8 L199.6 861.8 Q200.6 865.0 204.6 865.8 L210.0 865.8 Q213.6 864.8 214.4 861.8 L214.2 853.8 L212.4 850.4Z" fill="#fff" stroke="#1c1c1c" stroke-width="1.5" stroke-linejoin="round"/>
<path d="M201.6 851.0 Q207.0 854.4 212.4 851.0 M199.8 854.8 Q207.0 860.2 214.2 854.8 M203.6 857.2 L203.6 865.4 M210.6 857.2 L210.6 865.4 M204.4 852.6 L204.4 857.0 M209.6 852.6 L209.6 857.0" fill="none" stroke="#1c1c1c" stroke-width="1.1"/>
<path d="M214.1 831.0 Q218.8 833.4 223.5 831.0 L223.5 852.6 L214.1 852.6Z" fill="url(#braid)" stroke="#1c1c1c" stroke-width="1.1" stroke-linejoin="round"/>
<path d="M213.4 852.0 L213.4 857.6 L224.2 857.6 L224.2 852.0 Q218.8 855.2 213.4 852.0Z" fill="#fff" stroke="#1c1c1c" stroke-width="1.3" stroke-linejoin="round"/>
<path d="M213.4 857.2 L211.6 860.6 L211.4 868.6 Q212.4 871.8 216.4 872.6 L221.8 872.6 Q225.4 871.6 226.2 868.6 L226.0 860.6 L224.2 857.2Z" fill="#fff" stroke="#1c1c1c" stroke-width="1.5" stroke-linejoin="round"/>
<path d="M213.4 857.8 Q218.8 861.2 224.2 857.8 M211.6 861.6 Q218.8 867.0 226.0 861.6 M215.4 864.0 L215.4 872.2 M222.4 864.0 L222.4 872.2 M216.2 859.4 L216.2 863.8 M221.4 859.4 L221.4 863.8" fill="none" stroke="#1c1c1c" stroke-width="1.1"/>
<path d="M325.6 684.7L354.4 700.7" fill="none" stroke="#1c1c1c" stroke-width="1.0" stroke-dasharray="10 3"/>
<path d="M324.8 704.1L352.0 719.6" fill="none" stroke="#1c1c1c" stroke-width="1.0" stroke-dasharray="10 3"/>
<path d="M368.0 728.8L389.6 741.0" fill="none" stroke="#1c1c1c" stroke-width="1.0"/>
<path d="M299.2 679.0C299.4 676.4 299.4 674.5 300.0 672.6C300.6 670.7 301.2 669.2 302.6 667.8C304.1 666.4 306.4 665.2 308.7 664.4C311.0 663.6 313.7 663.2 316.3 663.2C318.9 663.2 322.3 663.5 324.4 664.2C326.4 664.9 327.7 666.1 328.6 667.6C329.5 669.1 329.7 670.3 329.9 673.4C330.1 676.5 329.9 681.8 329.9 686.0C329.9 690.2 330.3 695.7 329.9 698.4C329.5 701.1 328.7 701.2 327.6 702.2C326.5 703.2 324.6 703.7 323.1 704.4C321.6 705.1 320.2 705.3 318.6 706.2C317.0 707.1 315.2 708.4 313.4 709.6C311.6 710.8 309.5 712.9 307.9 713.2C306.3 713.5 304.9 712.5 303.6 711.2C302.4 709.9 301.2 707.7 300.4 705.4C299.6 703.1 299.1 700.3 298.8 697.4C298.5 694.5 298.5 691.1 298.6 688.0C298.7 684.9 299.0 681.6 299.2 679.0Z" fill="#fff" stroke="#1c1c1c" stroke-width="1.45" stroke-linejoin="round"/>
<path d="M304.4 667.0C304.5 667.8 304.7 670.4 305.0 672.0C305.3 673.6 306.2 673.6 306.4 676.6C306.6 679.6 306.5 685.4 306.4 690.0C306.3 694.6 305.8 700.2 306.0 704.0C306.2 707.8 307.2 711.2 307.4 712.6" fill="none" stroke="#1c1c1c" stroke-width="1.0"/>
<path d="M306.6 676.6 Q310 671.6 314.6 670.6" fill="none" stroke="#1c1c1c" stroke-width="1.0"/>
<path d="M310.6 669.6 Q315.6 667.0 321.4 668.6 L320.8 702.0 Q317 704.6 313.4 703.6 L313.4 678.0Z" fill="none" stroke="#1c1c1c" stroke-width="1.0" stroke-linejoin="round"/>
<path d="M313.0 673.0 L319.6 673.0 M314.4 673.6 L314.4 697.6 M319.8 673.6 L319.8 700.6 M313.6 697.6 L319.6 702.6" fill="none" stroke="#1c1c1c" stroke-width="1.0"/>
<ellipse cx="326.4" cy="672.0" rx="1.5" ry="1.7" fill="#fff" stroke="#1c1c1c" stroke-width="1.0"/>
<ellipse cx="308.8" cy="681.4" rx="1.5" ry="1.7" fill="#fff" stroke="#1c1c1c" stroke-width="1.0"/>
<ellipse cx="325.4" cy="684.6" rx="1.5" ry="1.7" fill="#fff" stroke="#1c1c1c" stroke-width="1.0"/>
<ellipse cx="308.0" cy="694.4" rx="1.5" ry="1.7" fill="#fff" stroke="#1c1c1c" stroke-width="1.0"/>
<ellipse cx="324.8" cy="697.8" rx="1.5" ry="1.7" fill="#fff" stroke="#1c1c1c" stroke-width="1.0"/>
<ellipse cx="310.0" cy="707.6" rx="1.5" ry="1.7" fill="#fff" stroke="#1c1c1c" stroke-width="1.0"/>
<ellipse cx="289.3" cy="663.5" rx="2.8" ry="3.1" fill="#333" stroke="#1c1c1c" stroke-width="1.4"/>
<path d="M287.8 662.2L290.8 664.8" fill="none" stroke="#ddd" stroke-width="0.7"/>
<path d="M292.0 665.4L294.4 667.0" fill="none" stroke="#1c1c1c" stroke-width="1.6"/>
<path d="M350.2 712 Q350.2 703.6 357 700.8 L365.6 698.3 Q365.2 694.6 368.4 692.8 Q372.6 690.8 376.2 693.8 Q380.6 699.6 381.3 712 L381 732.6 Q380 738 374 740 L364 742.3 Q352.4 744 350.5 735 Z" fill="#fff" stroke="#1c1c1c" stroke-width="1.45" stroke-linejoin="round"/>
<path d="M350.8 706.4C351.7 706.7 354.4 707.7 356.4 708.0C358.4 708.3 360.7 708.5 363.0 708.4C365.3 708.3 368.2 708.0 370.4 707.4C372.6 706.8 374.8 705.7 376.4 704.6C378.0 703.5 379.4 701.3 380.0 700.6" fill="none" stroke="#1c1c1c" stroke-width="1.0"/>
<path d="M350.4 712.8C351.5 713.1 354.6 714.4 357.0 714.8C359.4 715.2 362.1 715.2 364.6 715.0C367.1 714.8 369.8 714.2 372.0 713.6C374.2 713.0 376.1 712.0 377.6 711.2C379.1 710.4 380.4 709.0 381.0 708.6" fill="none" stroke="#1c1c1c" stroke-width="1.0"/>
<path d="M350.8 733.6C351.8 734.0 354.7 735.6 357.0 736.0C359.3 736.4 362.1 736.2 364.6 736.0C367.1 735.8 369.8 735.2 372.0 734.6C374.2 734.0 376.1 733.2 377.6 732.4C379.1 731.6 380.4 730.1 381.0 729.6" fill="none" stroke="#1c1c1c" stroke-width="1.0"/>
<path d="M365.8 698.0 Q368.4 701.0 371.6 700.0 Q373.0 699.0 372.6 696.6" fill="none" stroke="#1c1c1c" stroke-width="1.0"/>
<path d="M351.8 721.0 L364.5 722.7 Q368.2 724.2 367.6 726.8 Q366.0 729.4 361.1 729.6 L352.7 728.1Z" fill="#fff" stroke="#1c1c1c" stroke-width="1.3" stroke-linejoin="round"/>
<path d="M353.0 727.4 L357.6 722.6 M357.6 722.6 L364.6 727.4" fill="none" stroke="#1c1c1c" stroke-width="1.0"/>
<ellipse cx="392.6" cy="743.2" rx="2.8" ry="3.1" fill="#333" stroke="#1c1c1c" stroke-width="1.4"/>
<path d="M391.1 741.9L394.1 744.5" fill="none" stroke="#ddd" stroke-width="0.7"/>
<path d="M387.6 739.8L390.4 741.4" fill="none" stroke="#1c1c1c" stroke-width="1.6"/>
</g>
<!-- tool box -->
<g id="toolbox">
<rect x="468.5" y="603.0" width="157.1" height="96.6" fill="none" stroke="#1c1c1c" stroke-width="1.7"/>
<path d="M532.9 603.0L532.9 699.6" fill="none" stroke="#1c1c1c" stroke-width="1.2"/>
<path d="M473.2 624.6L521.0 624.6" fill="none" stroke="#1c1c1c" stroke-width="1.2"/>
<path d="M489.8 652.0 L489.8 681.0 Q500.8 687.0 511.8 681.0 L511.8 652.0Z" fill="#fff" stroke="#9c9c9c" stroke-width="1.5" stroke-linejoin="round"/>
<path d="M488.40000000000003 679.6 L488.40000000000003 685.6 L497.2 690.6 L505.8 689.8 L513.2 684.6 L513.2 678.6 L505.8 683.6 L497.2 684.4Z" fill="#fff" stroke="#9c9c9c" stroke-width="1.5" stroke-linejoin="round"/>
<path d="M497.2 684.4 L497.2 690.6 M505.8 683.6 L505.8 689.8" fill="none" stroke="#9c9c9c" stroke-width="1.3"/>
<path d="M488.40000000000003 642.4 L488.8 650.0 Q500.8 659.6 512.8 650.0 L513.2 642.4Z" fill="#fff" stroke="#9c9c9c" stroke-width="1.5" stroke-linejoin="round"/>
<ellipse cx="500.8" cy="642.4" rx="12.4" ry="7.0" fill="#fff" stroke="#9c9c9c" stroke-width="1.6"/>
<ellipse cx="500.8" cy="645.2" rx="8.6" ry="3.6" fill="#fff" stroke="#9c9c9c" stroke-width="1.4"/>
<path d="M490.2 640.0 Q500.8 633.4 511.40000000000003 640.0" fill="none" stroke="#9c9c9c" stroke-width="1.0"/>
<path d="M492.2 638.0L492.2 641.7" fill="none" stroke="#9c9c9c" stroke-width="1.1"/>
<path d="M495.8 637.6L495.8 642.1" fill="none" stroke="#9c9c9c" stroke-width="1.1"/>
<path d="M501.2 637.0L501.2 642.6" fill="none" stroke="#9c9c9c" stroke-width="1.1"/>
<path d="M506.4 637.7L506.4 642.0" fill="none" stroke="#9c9c9c" stroke-width="1.1"/>
<path d="M509.8 638.1L509.8 641.7" fill="none" stroke="#9c9c9c" stroke-width="1.1"/>
<path d="M493.4 648.0L493.4 652.8" fill="none" stroke="#9c9c9c" stroke-width="1.1"/>
<path d="M499.8 649.4L499.8 654.2" fill="none" stroke="#9c9c9c" stroke-width="1.1"/>
<path d="M506.4 648.4L506.4 653.2" fill="none" stroke="#9c9c9c" stroke-width="1.1"/>
<ellipse cx="493.2" cy="659.4" rx="2.0" ry="2.8" transform="rotate(-10 493.2 659.4)" fill="none" stroke="#9c9c9c" stroke-width="1.5"/>
<ellipse cx="493.2" cy="676.4" rx="2.2" ry="2.8" transform="rotate(-10 493.2 676.4)" fill="#c8c8c8" stroke="#9c9c9c" stroke-width="1.6"/>
<path d="M504.40000000000003 670.0 Q507.8 669.6 510.40000000000003 667.2" fill="none" stroke="#9c9c9c" stroke-width="2.6" stroke-linecap="round"/>
<path d="M507.40000000000003 658.6 L509.40000000000003 657.4" fill="none" stroke="#9c9c9c" stroke-width="2.2" stroke-linecap="round"/>
<path d="M507.40000000000003 677.6 L509.40000000000003 676.4" fill="none" stroke="#9c9c9c" stroke-width="2.2" stroke-linecap="round"/>
<path d="M560.3000000000001 651.0 L561.1 678.6 A19.6 9.0 0 0 0 600.3000000000001 678.6 L601.1 651.0Z" fill="#1c1c1c" stroke="#1c1c1c" stroke-width="1.5" stroke-linejoin="round"/>
<path d="M561.7 655.0 A19.2 9.0 0 0 0 599.7 655.0" fill="none" stroke="#fff" stroke-width="1.5"/>
<path d="M561.7 658.4 A19.2 9.0 0 0 0 599.7 658.4" fill="none" stroke="#fff" stroke-width="0.8"/>
<path d="M561.7 660.6 A19.2 9.0 0 0 0 599.7 660.6" fill="none" stroke="#fff" stroke-width="0.8"/>
<path d="M561.7 666.6 A19.2 9.0 0 0 0 599.7 666.6" fill="none" stroke="#fff" stroke-width="1.4"/>
<path d="M561.7 669.4 A19.2 9.0 0 0 0 599.7 669.4" fill="none" stroke="#fff" stroke-width="0.8"/>
<path d="M561.7 671.6 A19.2 9.0 0 0 0 599.7 671.6" fill="none" stroke="#fff" stroke-width="0.8"/>
<path d="M561.7 674.4 A19.2 9.0 0 0 0 599.7 674.4" fill="none" stroke="#fff" stroke-width="1.2"/>
<ellipse cx="580.7" cy="650.4" rx="20.4" ry="11.6" fill="#fff" stroke="#1c1c1c" stroke-width="2.4"/>
<path d="M566.1 646.6 L571.7 641.0 L587.3000000000001 639.2 L595.1 643.0 L596.3000000000001 651.4 L591.3000000000001 655.6 L577.3000000000001 657.6 L567.1 652.6Z" fill="#fff" stroke="#1c1c1c" stroke-width="1.5" stroke-linejoin="round"/>
<path d="M567.1 652.6 L567.5 655.0 L577.5 660.2 L591.5 658.2 L596.3000000000001 654.0 L596.3000000000001 651.4 M577.3000000000001 657.6 L577.5 660.2 M591.3000000000001 655.6 L591.5 658.2" fill="none" stroke="#1c1c1c" stroke-width="1.3" stroke-linejoin="round"/>
<ellipse cx="580.9" cy="649.0" rx="11.4" ry="6.0" transform="rotate(-3 580.9 649.0)" fill="#fff" stroke="#1c1c1c" stroke-width="1.7"/>
<path d="M570.7 647.0 A11 5.4 -3 0 1 591.5 646.4" fill="none" stroke="#1c1c1c" stroke-width="1.0"/>
</g>
</svg>
<div id="foot"></div>
</body>
</html>
